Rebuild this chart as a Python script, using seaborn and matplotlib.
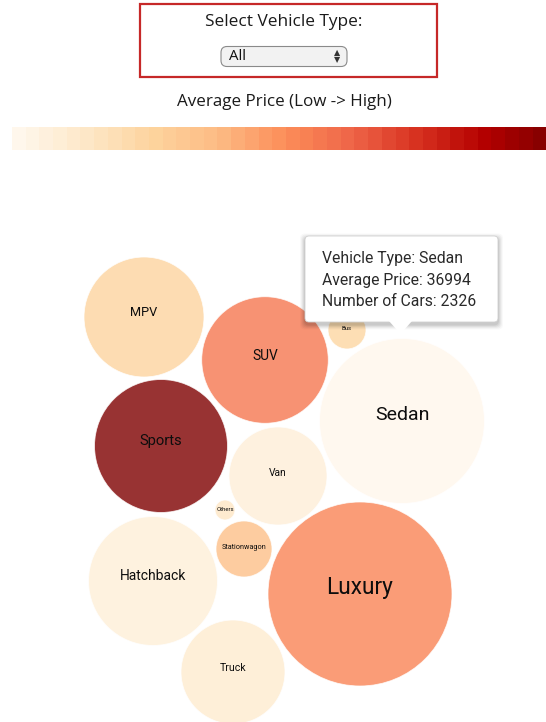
"""Vehicle type bubble chart: bubble area = number of cars, colour = average price."""

import matplotlib.pyplot as plt
import numpy as np
import pandas as pd
import seaborn as sns
from matplotlib.patches import FancyBboxPatch, Polygon, Rectangle

sns.set_theme(style="white")
plt.rcParams["font.family"] = ["Roboto", "DejaVu Sans"]

DPI = 100
WIDTH_PX, HEIGHT_PX = 546, 722

VEHICLE_TYPES = ["Sedan", "Luxury", "Sports", "Hatchback", "SUV", "MPV",
                 "Truck", "Van", "Stationwagon", "Bus", "Others"]
AVG_PRICE = [36994, 95800, 148000, 45000, 100300, 64700,
             48500, 45500, 75800, 63600, 52000]
NUM_CARS = [2326, 2893, 1511, 1422, 1369, 1230, 924, 821, 268, 123, 34]

# resting positions of the force layout, in page pixels
LAYOUT_X = [402, 360, 161, 153, 265, 144, 233, 278, 244, 347, 225]
LAYOUT_Y = [421, 594, 446, 581, 360, 317, 672, 476, 549, 330, 510]
# label font size (px) per bubble
LABEL_PX = [19.5, 22.6, 14.7, 13.9, 13.7, 12.7, 10.5, 10.3, 7.3, 6, 6]

TOOLTIP_LINES = ["Vehicle Type: Sedan", "Average Price: 36994", "Number of Cars: 2326"]

MAX_R = 92  # px radius of the biggest bubble
PX = 72 / DPI  # points per pixel
HEADER_FONT = ["Open Sans", "DejaVu Sans"]


def main() -> None:
    df = pd.DataFrame({
        "vehicle_type": VEHICLE_TYPES,
        "avg_price": AVG_PRICE,
        "num_cars": NUM_CARS,
        "x": LAYOUT_X,
        "y": LAYOUT_Y,
    })

    fig = plt.figure(figsize=(WIDTH_PX / DPI, HEIGHT_PX / DPI), dpi=DPI)
    ax = fig.add_axes([0, 0, 1, 1])
    ax.set_axis_off()

    price_norm = (min(AVG_PRICE), max(AVG_PRICE))
    max_area = (2 * MAX_R * PX) ** 2
    sns.scatterplot(
        data=df, x="x", y="y",
        hue="avg_price", palette="OrRd", hue_norm=price_norm,
        size="num_cars", sizes=(0, max_area), size_norm=(0, max(NUM_CARS)),
        alpha=0.8, edgecolor="white", linewidth=0.6,
        legend=False, ax=ax, zorder=2,
    )

    for _, row in df.iterrows():
        r = MAX_R * np.sqrt(row["num_cars"] / max(NUM_CARS))
        idx = VEHICLE_TYPES.index(row["vehicle_type"])
        ax.text(row["x"], row["y"] - 0.07 * r, row["vehicle_type"],
                ha="center", va="center", color="#0d0d0d",
                fontsize=LABEL_PX[idx] * PX, zorder=3)

    # header: select box
    ax.add_patch(Rectangle((140, 4), 297, 73, fill=False, edgecolor="#c62828",
                           linewidth=1.6, zorder=4))
    ax.text(284, 22, "Select Vehicle Type:", ha="center", va="center",
            fontsize=17.2 * PX, color="#1a1a1a", family=HEADER_FONT)
    ax.add_patch(FancyBboxPatch((221, 46.5), 126, 20,
                                boxstyle="round,pad=0,rounding_size=6",
                                facecolor="#f2f2f2", edgecolor="#8a8a8a",
                                linewidth=0.8, zorder=4))
    ax.text(229, 56.5, "All", ha="left", va="center", fontsize=15 * PX,
            color="#111111", family=HEADER_FONT, zorder=5)
    ax.text(337, 52.5, "▲", ha="center", va="center", fontsize=8 * PX,
            color="#333333", family=["DejaVu Sans"], zorder=5)
    ax.text(337, 60, "▼", ha="center", va="center", fontsize=8 * PX,
            color="#333333", family=["DejaVu Sans"], zorder=5)
    ax.text(284, 102, "Average Price (Low -> High)", ha="center", va="center",
            fontsize=17 * PX, color="#1a1a1a", family=HEADER_FONT)

    # price legend gradient
    steps = np.linspace(price_norm[0], price_norm[1], 40)[None, :]
    ax.imshow(steps, cmap="OrRd", vmin=price_norm[0], vmax=price_norm[1],
              extent=[12, 560, 150, 127], aspect="auto", interpolation="nearest",
              zorder=1)

    # tooltip
    for grow, a in [(5, 0.025), (4, 0.035), (3, 0.045), (2, 0.055), (1, 0.065)]:
        ax.add_patch(FancyBboxPatch((305 - grow, 236 - grow + 2.5), 193 + 2 * grow, 86 + 2 * grow,
                                    boxstyle="round,pad=0,rounding_size=5",
                                    facecolor="black", edgecolor="none", alpha=a, zorder=5))
    ax.add_patch(FancyBboxPatch((305, 236), 193, 86,
                                boxstyle="round,pad=0,rounding_size=4",
                                facecolor="white", edgecolor="#d0d0d0",
                                linewidth=0.6, zorder=6))
    ax.add_patch(Polygon([(389, 321), (412, 321), (400.5, 334)], closed=True,
                         facecolor="white", edgecolor="none", zorder=6))
    for i, line in enumerate(TOOLTIP_LINES):
        ax.text(322, 258.5 + 21.7 * i, line, ha="left", va="center",
                fontsize=15.8 * PX, color="#2a2a2a", zorder=7)

    ax.set_xlim(0, WIDTH_PX)
    ax.set_ylim(HEIGHT_PX, 0)

    fig.savefig("out.png", dpi=DPI)
    plt.close(fig)


if __name__ == "__main__":
    main()
